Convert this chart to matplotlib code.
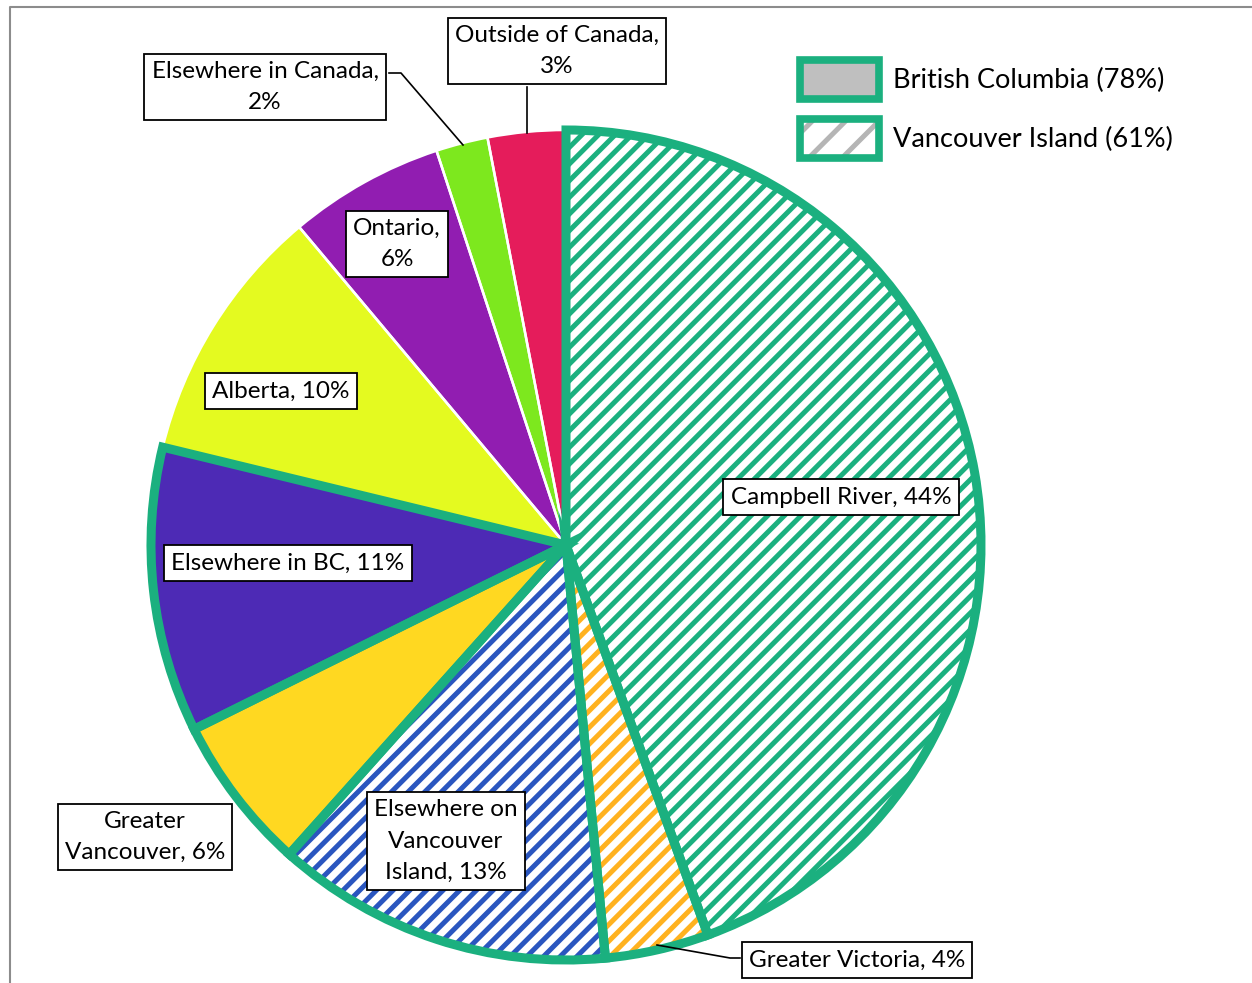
import matplotlib
matplotlib.use("Agg")
import matplotlib.pyplot as plt
from matplotlib.patches import Patch
from matplotlib.legend_handler import HandlerTuple

plt.rcParams["font.family"] = ["Lato", "DejaVu Sans"]
plt.rcParams["hatch.linewidth"] = 3.6

# where respondents live, clockwise from 12 o'clock
regions = ["Campbell River", "Greater Victoria", "Elsewhere on\nVancouver\nIsland",
           "Greater\nVancouver", "Elsewhere in BC", "Alberta", "Ontario",
           "Elsewhere in Canada", "Outside of Canada"]
shares = [44, 4, 13, 6, 11, 10, 6, 2, 3]
label_sep = [" ", " ", " ", " ", " ", " ", "\n", "\n", "\n"]
n_island = 3   # first three regions are on Vancouver Island
n_bc = 5       # first five regions are in British Columbia

fill_colors = ["white", "white", "white", "#ffd821", "#4d2ab5",
               "#e4fa20", "#911db1", "#7de81e", "#e51c5b"]
hatch_colors = ["#1bb07f", "#ffb21f", "#2a56bf"]
green = "#1bb07f"

W, H = 1252, 983
fig = plt.figure(figsize=(W / 100, H / 100), dpi=100)
ax = fig.add_axes([0, 0, 1, 1])

center = (566, H - 545)
radius = 415

wedges, _ = ax.pie(shares, startangle=90, counterclock=False, center=center,
                   radius=radius, colors=fill_colors,
                   wedgeprops=dict(linewidth=0))
for w, hc in zip(wedges[:n_island], hatch_colors):
    w.set_facecolor("white")
    w.set_hatch("//")
    w.set_edgecolor(hc)
    w.set_linewidth(0)

# outlines: thin white between non-BC slices, thick green round the BC ones
outlines, _ = ax.pie(shares, startangle=90, counterclock=False, center=center,
                     radius=radius, wedgeprops=dict(fill=False))
for i, w in enumerate(outlines):
    if i < n_bc:
        w.set(edgecolor=green, linewidth=6.5, joinstyle="miter", zorder=4)
    else:
        w.set(edgecolor="white", linewidth=1.8, zorder=3)

ax.set_xlim(0, W)
ax.set_ylim(0, H)
ax.set_aspect("auto")
ax.axis("off")

# label boxes (x, y in pixels from top-left)
label_pos = [(841, 497), (857, 960), (446, 841), (145, 837), (288, 563),
             (281, 391), (397, 244), (265, 87), (557, 51)]
for name, val, sep, (lx, ly) in zip(regions, shares, label_sep, label_pos):
    ax.text(lx, H - ly, f"{name},{sep}{val}%", ha="center", va="center",
            fontsize=17.5, linespacing=1.6, zorder=6,
            bbox=dict(boxstyle="square,pad=0.3", fc="white", ec="black", lw=1.3))

# leader lines for the small slices
leaders = [
    [(527, 87), (527, 133)],
    [(389, 73), (401, 73), (463, 145)],
    [(657, 945), (730, 958), (740, 958)],
]
for pts in leaders:
    xs = [p[0] for p in pts]
    ys = [H - p[1] for p in pts]
    ax.plot(xs, ys, color="black", lw=1.2, zorder=5)

# chart frame
ax.plot([9.5, 9.5, W + 5], [-5, H - 7, H - 7], color="#8c8c8c", lw=1.5,
        clip_on=False, zorder=1)

bc_total = sum(shares[:n_bc])
island_total = sum(shares[:n_island])
handles = [
    (Patch(fc="#bfbfbf", ec="none"),
     Patch(fill=False, ec=green, lw=5.5, joinstyle="round")),
    (Patch(fc="white", hatch="/", ec="#b5b5b5", lw=0),
     Patch(fill=False, ec=green, lw=5.5, joinstyle="round")),
]
fig.legend(handles, [f"British Columbia ({bc_total}%)",
                     f"Vancouver Island ({island_total}%)"],
           handler_map={tuple: HandlerTuple(ndivide=1)},
           loc="upper left", bbox_to_anchor=(786 / W, 1 - 46 / H),
           frameon=False, fontsize=19.5, handlelength=2.95, handleheight=1.85,
           handletextpad=0.5, labelspacing=0.75, borderpad=0)

fig.savefig("out.png", dpi=100)
